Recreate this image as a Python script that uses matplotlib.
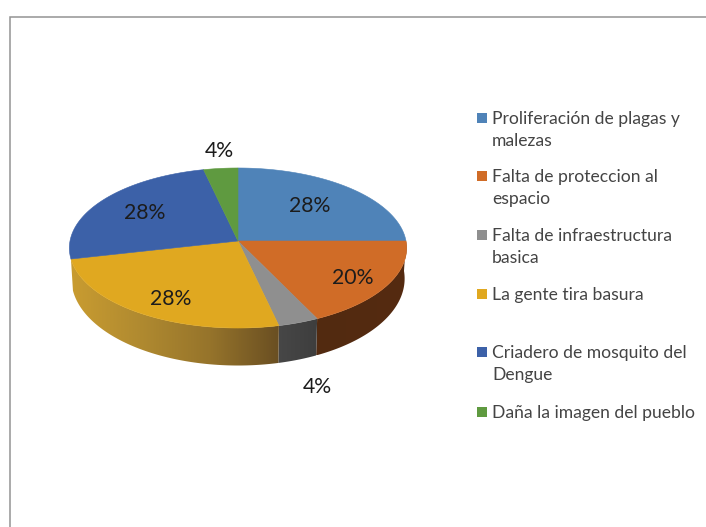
import numpy as np
import matplotlib
matplotlib.use("Agg")
import matplotlib.pyplot as plt
from matplotlib.colors import LinearSegmentedColormap
from matplotlib.patches import Rectangle, Polygon

plt.rcParams['font.family'] = ['Lato', 'DejaVu Sans']

# ---- data ----
categories = ["Proliferación de plagas y\nmalezas", "Falta de proteccion al\nespacio",
              "Falta de infraestructura\nbasica", "La gente tira basura",
              "Criadero de mosquito del\nDengue", "Daña la imagen del pueblo"]
values = [7, 5, 1, 7, 7, 1]
pct_labels = ["28%", "20%", "4%", "28%", "28%", "4%"]
colors = ["#4f83b8", "#d06c27", "#8f8f8f", "#e0a820", "#3c61a8", "#5f9a40"]
wall_ramps = [None, ["#552b11", "#522a10"], ["#474747", "#3e3e3e"],
              ["#c99c30", "#b08a30", "#96742b", "#6a4f22"], None, None]
label_xy = [(310, 206), (353, 278), (317, 387), (171, 299), (145, 213), (219, 151)]
legend_y = [118, 176, 235, 294, 352, 412]

# ---- layout (pixels) ----
W, H = 706, 527
CX, CY, RX, A, K = 238, 241, 168, 79.4, 0.0875


def top(theta):
    u, v = np.sin(theta), np.cos(theta)
    d = 1 + K * v
    return CX + RX * u / d, CY - A * v / d


def bottom(theta):
    x, y = top(theta)
    v = np.cos(theta)
    return CX + (x - CX) * 0.988, y + 30 - 7.5 * v


fig = plt.figure(figsize=(W / 100, H / 100), dpi=100)
ax = fig.add_axes([0, 0, 1, 1])

# frame
ax.plot([10, 10, W], [H, 17, 17], color="#939393", lw=1.1, solid_joinstyle="miter")

edges = np.cumsum([0] + values) / sum(values) * 2 * np.pi

# side walls of the front slices, shaded left to right
for i in range(len(values)):
    if wall_ramps[i] is None:
        continue
    lo, hi = edges[i], edges[i + 1]
    ts = np.linspace(lo, hi, 200)
    xt, yt = top(ts)
    xb, yb = bottom(ts)
    pts = np.column_stack([np.r_[xt, xb[::-1]], np.r_[yt, yb[::-1]]])
    poly = Polygon(pts, closed=True, facecolor="none", edgecolor="none", transform=ax.transData)
    ax.add_patch(poly)
    x0, x1 = pts[:, 0].min(), pts[:, 0].max()
    ramp = wall_ramps[i]
    if i == 1:
        ramp = ramp[::-1]
    cmap = LinearSegmentedColormap.from_list("w", ramp)
    im = ax.imshow(np.linspace(0, 1, 256)[None, :], cmap=cmap, aspect="auto",
                   extent=[x0, x1, pts[:, 1].max(), pts[:, 1].min()], zorder=2)
    im.set_clip_path(poly)

# top face
for i in range(len(values)):
    ts = np.linspace(edges[i], edges[i + 1], 200)
    xs, ys = top(ts)
    pts = np.column_stack([np.r_[CX, xs], np.r_[CY, ys]])
    ax.add_patch(Polygon(pts, closed=True, facecolor=colors[i], edgecolor=colors[i], linewidth=0.4, zorder=3))

# data labels
for (x, y), s in zip(label_xy, pct_labels):
    ax.text(x, y, s, ha="center", va="center", fontsize=15.3, color="#1c1c1c", zorder=4)

# legend
for y, c, s in zip(legend_y, colors, categories):
    ax.add_patch(Rectangle((477, y - 5), 10, 10, facecolor=c, edgecolor="none", zorder=4))
    for k, line in enumerate(s.split("\n")):
        ax.text(492, y + 0.8 + k * 22.5, line, ha="left", va="center", fontsize=12.6, color="#444444", zorder=4)

ax.set_xlim(0, W)
ax.set_ylim(H, 0)
ax.axis("off")

fig.savefig("out.png", dpi=100, facecolor="white")
